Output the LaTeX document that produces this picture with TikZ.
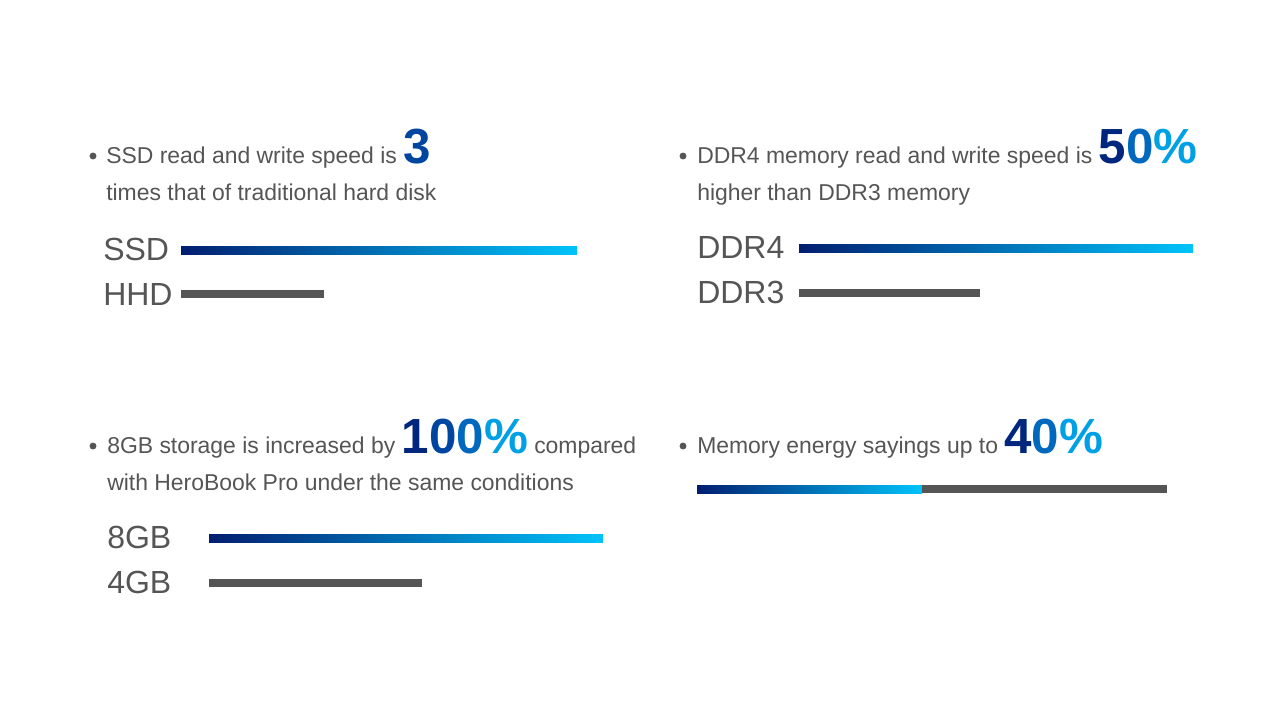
\documentclass[tikz,border=0pt]{standalone}
\usepackage{fontspec}
\setmainfont{Liberation Sans}
\usepackage{xcolor}
\usetikzlibrary{positioning}

\definecolor{txtgray}{RGB}{85,85,85}
\definecolor{bargray}{RGB}{85,85,85}
\definecolor{navyend}{RGB}{0,30,112}
\definecolor{cyanend}{RGB}{0,195,250}
\definecolor{numA}{RGB}{0,38,125}
\definecolor{numB}{RGB}{0,70,160}
\definecolor{numC}{RGB}{0,105,190}
\definecolor{numD}{RGB}{0,160,230}

\newcommand{\bodyfont}{\fontsize{17.2}{20}\selectfont}
\newcommand{\tagfont}{\fontsize{24}{28}\selectfont}
\newcommand{\numfont}{\fontsize{37}{40}\selectfont\bfseries}

\begin{document}
\begin{tikzpicture}[x=0.75pt,y=0.75pt,yscale=-1,xscale=1,
  bodytext/.style={anchor=base west, inner sep=0pt, text=txtgray, font=\bodyfont},
  bartag/.style={anchor=base west, inner sep=0pt, text=txtgray, font=\tagfont},
  dot/.style={circle, fill=txtgray, inner sep=0pt, minimum size=5.2pt},
  fastbar/.style={left color=navyend, right color=cyanend, draw=none},
  slowbar/.style={fill=bargray, draw=none}]
\useasboundingbox (0,0) rectangle (1284,722);

%Shape: Circle [id:bullets]
\node[dot] (dotssd) at (93,156) {};
\node[dot] (dotddr) at (683,156) {};
\node[dot] (dotgb) at (93,446) {};
\node[dot] (dotmem) at (683,446) {};

% Text Node
\node[bodytext] (ssdline) at (106,163.5) {SSD read and write speed is {\numfont\textcolor{numB}{3}}};
% Text Node
\node[bodytext] (ssdline2) at (106,200) {times that of traditional hard disk};
% Text Node
\node[bartag] (ssd) at (103,260) {SSD};
% Text Node
\node[bartag] (hhd) at (103,305) {HHD};
%Rectangle [id:ssdbar]
\shade[fastbar] (181,246) rectangle (577,254);
%Rectangle [id:hhdbar]
\fill[slowbar] (181,290) rectangle (324,298);

% Text Node
\node[bodytext] (ddrline) at (697,163.5) {DDR4 memory read and write speed is {\numfont\textcolor{numA}{5}\textcolor{numC}{0}\textcolor{numD}{\%}}};
% Text Node
\node[bodytext] (ddrline2) at (697,200) {higher than DDR3 memory};
% Text Node
\node[bartag] (ddrfour) at (697,258) {DDR4};
% Text Node
\node[bartag] (ddrthree) at (697,303) {DDR3};
%Rectangle [id:ddrfourbar]
\shade[fastbar] (799,244) rectangle (1193,252);
%Rectangle [id:ddrthreebar]
\fill[slowbar] (799,289) rectangle (980,297);

% Text Node
\node[bodytext] (gbline) at (107,453.5) {8GB storage is increased by {\numfont\textcolor{numA}{1}\textcolor{numB}{0}\textcolor{numC}{0}\textcolor{numD}{\%}} compared};
% Text Node
\node[bodytext] (gbline2) at (107,490) {with HeroBook Pro under the same conditions};
% Text Node
\node[bartag] (gbeight) at (107,548) {8GB};
% Text Node
\node[bartag] (gbfour) at (107,593) {4GB};
%Rectangle [id:gbeightbar]
\shade[fastbar] (209,534) rectangle (603,542);
%Rectangle [id:gbfourbar]
\fill[slowbar] (209,579) rectangle (422,587);

% Text Node
\node[bodytext] (memline) at (697,453.5) {Memory energy sayings up to {\numfont\textcolor{numA}{4}\textcolor{numC}{0}\textcolor{numD}{\%}}};
%Rectangle [id:membar]
\shade[fastbar] (697,485) rectangle (922,493);
\fill[slowbar] (922,485) rectangle (1167,493);

\end{tikzpicture}
\end{document}
